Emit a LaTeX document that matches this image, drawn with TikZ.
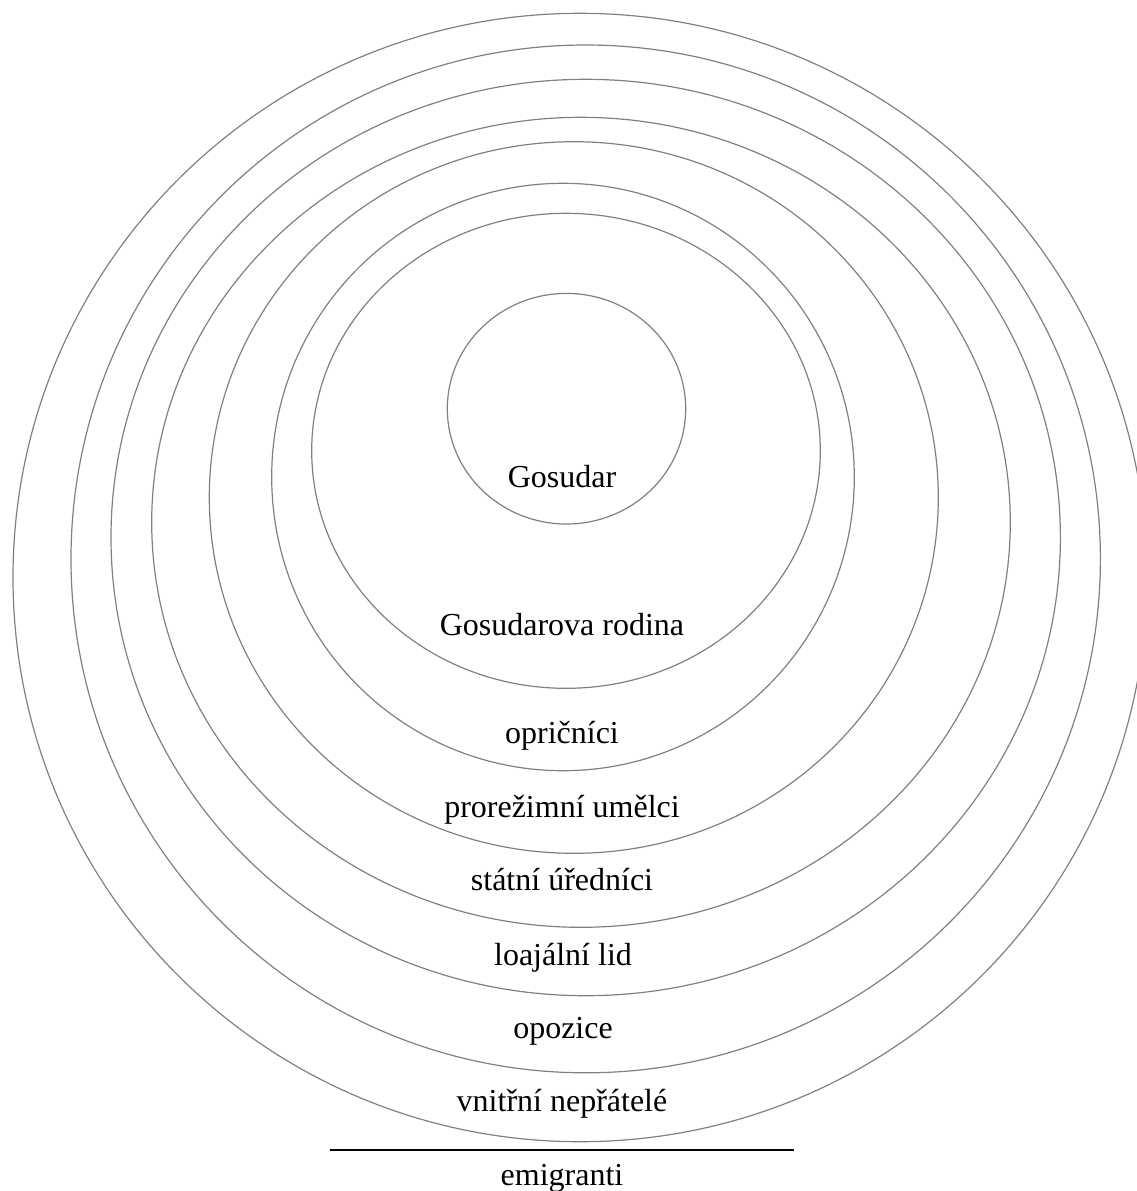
\documentclass[tikz,border=0pt]{standalone}
\usepackage{fontspec}
\setmainfont{Liberation Serif}
\begin{document}
\begin{tikzpicture}[x=0.5pt,y=-0.5pt,
  ring/.style={draw=black!50, line width=0.6pt},
  lab/.style={anchor=base, inner sep=0pt, font=\fontsize{16}{19}\selectfont},
  rule/.style={draw=black, line width=0.6pt}]
\useasboundingbox (0,0) rectangle (1137,1191);
\clip (0,0) rectangle (1137,1191);
\draw[ring] (580,577.5) ellipse [x radius=567, y radius=564.2];
\draw[ring] (585.7,558.9) ellipse [x radius=514.7, y radius=513.9];
\draw[ring] (585.7,537.5) ellipse [x radius=474.7, y radius=458.2];
\draw[ring] (581,522.3) ellipse [x radius=429.3, y radius=405];
\draw[ring] (573.8,497.5) ellipse [x radius=364.5, y radius=355.8];
\draw[ring] (563,477) ellipse [x radius=291.3, y radius=293.7];
\draw[ring] (566,450.8) ellipse [x radius=254.3, y radius=237.5];
\draw[ring] (566.5,408.7) ellipse [x radius=119.2, y radius=115.3];
\node[lab] (gosudar) at (562,487) {Gosudar};
\node[lab] (rodina) at (562,635) {Gosudarova rodina};
\node[lab] (opricnici) at (562,743.3) {opričníci};
\node[lab] (umelci) at (562,817.3) {prorežimní umělci};
\node[lab] (urednici) at (562,890.7) {státní úředníci};
\node[lab] (lid) at (563,965) {loajální lid};
\node[lab] (opozice) at (563,1038) {opozice};
\node[lab] (nepratele) at (562,1111.7) {vnitřní nepřátelé};
\coordinate (la) at (330,1150);
\coordinate (lb) at (794,1150);
\draw[rule] (la) -- (lb);
\node[lab] (emigranti) at (562,1185) {emigranti};
\end{tikzpicture}
\end{document}
